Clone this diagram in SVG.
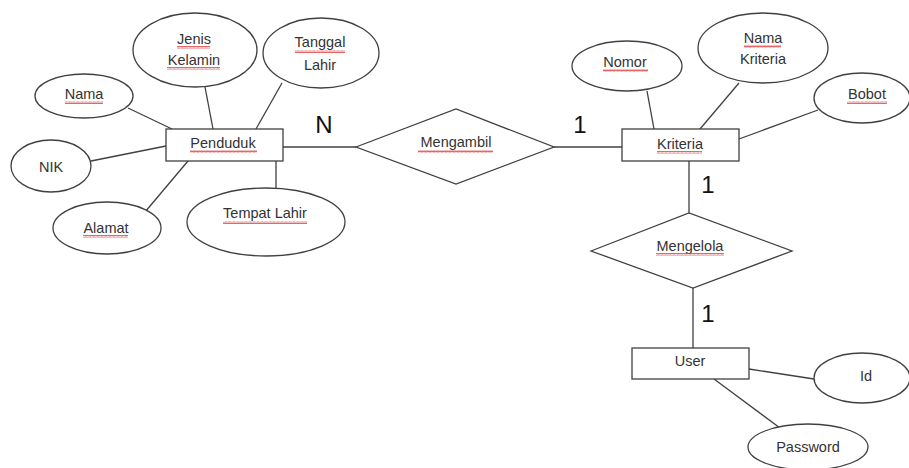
<svg xmlns="http://www.w3.org/2000/svg" width="909" height="468" viewBox="0 0 909 468">
<defs>
<pattern id="sq" width="4" height="3" patternUnits="userSpaceOnUse">
<path d="M0,2.5 L1,0.5 L2,2.5 L3,0.5 L4,2.5" fill="none" stroke="#e04040" stroke-width="0.8"/>
</pattern>
</defs>
<style>
.sh{fill:#fff;stroke:#404040;stroke-width:1.3}
.ln{stroke:#404040;stroke-width:1.3;fill:none}
.t{font-family:"Liberation Sans",Arial,sans-serif;font-size:14.5px;fill:#333;text-anchor:middle}
.c{font-family:"Liberation Sans",Arial,sans-serif;font-size:24px;fill:#111;text-anchor:middle}
.u{fill:url(#sq)}
</style>
<rect width="909" height="468" fill="#fff"/>
<g id="connectors">
<line class="ln" x1="128" y1="108" x2="172" y2="129"/>
<line class="ln" x1="205" y1="87" x2="213" y2="129"/>
<line class="ln" x1="282" y1="83" x2="256" y2="129"/>
<line class="ln" x1="91" y1="161" x2="166" y2="146"/>
<line class="ln" x1="145" y1="212" x2="188" y2="161"/>
<line class="ln" x1="276" y1="161" x2="276" y2="190"/>
<line class="ln" x1="283" y1="147" x2="356" y2="147"/>
<line class="ln" x1="554" y1="147" x2="622" y2="147"/>
<line class="ln" x1="647" y1="91" x2="654" y2="129"/>
<line class="ln" x1="739" y1="83" x2="700" y2="129"/>
<line class="ln" x1="818" y1="110" x2="739" y2="139"/>
<line class="ln" x1="689" y1="161" x2="689" y2="213"/>
<line class="ln" x1="693" y1="288" x2="693" y2="348"/>
<line class="ln" x1="749" y1="369" x2="814" y2="379"/>
<line class="ln" x1="714" y1="379" x2="780" y2="428"/>
</g>
<g id="penduduk"><rect class="sh" x="166" y="129" width="117" height="32"/><text class="t" x="223" y="148">Penduduk</text><rect class="u" x="190" y="150" width="67" height="3"/></g>
<g id="jenis-kelamin"><ellipse class="sh" cx="195" cy="50" rx="62" ry="37"/><text class="t" x="194" y="44">Jenis</text><text class="t" x="194" y="65">Kelamin</text><rect class="u" x="177" y="46" width="33" height="3"/><rect class="u" x="167" y="67" width="53" height="3"/></g>
<g id="tanggal-lahir"><ellipse class="sh" cx="321" cy="53" rx="58" ry="35"/><text class="t" x="320" y="47">Tanggal</text><text class="t" x="320" y="70">Lahir</text><rect class="u" x="295" y="50" width="50" height="3"/></g>
<g id="nama"><ellipse class="sh" cx="84" cy="96" rx="49" ry="22"/><text class="t" x="84" y="99">Nama</text><rect class="u" x="65" y="101" width="38" height="3"/></g>
<g id="nik"><ellipse class="sh" cx="51" cy="166" rx="40" ry="26"/><text class="t" x="51" y="172">NIK</text></g>
<g id="alamat"><ellipse class="sh" cx="107" cy="228" rx="54" ry="26"/><text class="t" x="106" y="233">Alamat</text><rect class="u" x="83" y="235" width="45" height="3"/></g>
<g id="tempat-lahir"><ellipse class="sh" cx="266" cy="222" rx="79" ry="34"/><text class="t" x="265" y="218">Tempat Lahir</text><rect class="u" x="223" y="221" width="84" height="3"/></g>
<g id="mengambil"><polygon class="sh" points="356,147 456,109 554,147 456,184"/><text class="t" x="456" y="147">Mengambil</text><rect class="u" x="418" y="150" width="75" height="3"/></g>
<g id="kriteria"><rect class="sh" x="622" y="129" width="117" height="32"/><text class="t" x="680" y="149">Kriteria</text><rect class="u" x="657" y="151" width="45" height="3"/></g>
<g id="nomor"><ellipse class="sh" cx="627" cy="66" rx="55" ry="25"/><text class="t" x="625" y="67">Nomor</text><rect class="u" x="603" y="69" width="45" height="3"/></g>
<g id="nama-kriteria"><ellipse class="sh" cx="763" cy="48" rx="65" ry="35"/><text class="t" x="763" y="43">Nama</text><text class="t" x="763" y="64">Kriteria</text><rect class="u" x="744" y="45" width="37" height="3"/></g>
<g id="bobot"><ellipse class="sh" cx="862" cy="98" rx="48" ry="25"/><text class="t" x="867" y="99">Bobot</text><rect class="u" x="847" y="101" width="40" height="3"/></g>
<g id="mengelola"><polygon class="sh" points="591,251 689,213 792,251 693,288"/><text class="t" x="690" y="251">Mengelola</text><rect class="u" x="656" y="253" width="68" height="3"/></g>
<g id="user"><rect class="sh" x="632" y="348" width="117" height="31"/><text class="t" x="690" y="366">User</text></g>
<g id="id"><ellipse class="sh" cx="862" cy="378" rx="48" ry="25"/><text class="t" x="866" y="381">Id</text></g>
<g id="password"><ellipse class="sh" cx="808" cy="447" rx="60" ry="23"/><text class="t" x="808" y="452">Password</text></g>
<g id="cardinalities">
<text class="c" x="324" y="133">N</text>
<text class="c" x="580" y="133">1</text>
<text class="c" x="708" y="193">1</text>
<text class="c" x="708" y="322">1</text>
</g>
</svg>
